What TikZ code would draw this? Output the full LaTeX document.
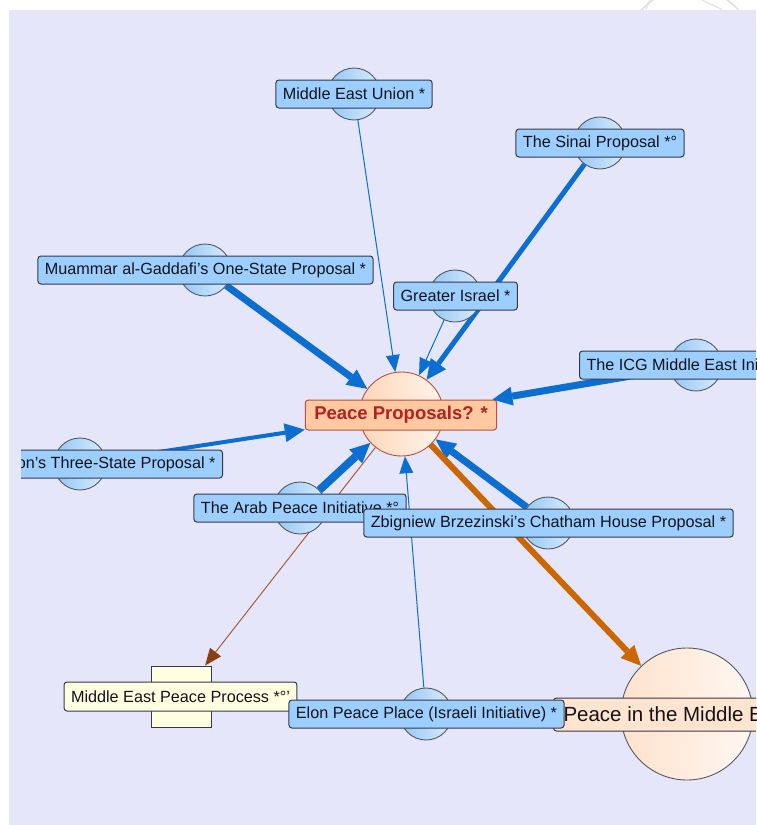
\documentclass[tikz,border=0pt]{standalone}
\usepackage{fontspec}
\setmainfont{Liberation Sans}
\usetikzlibrary{arrows.meta}

\pgfdeclarelayer{backdrop}
\pgfdeclarelayer{links}
\pgfsetlayers{backdrop,links,main}

\definecolor{canvas}{RGB}{230,230,250}
\definecolor{tagblue}{RGB}{156,206,255}
\definecolor{bubblelo}{RGB}{148,198,244}
\definecolor{bubblehi}{RGB}{216,237,255}
\definecolor{outline}{RGB}{55,58,70}
\definecolor{linkblue}{RGB}{12,110,208}
\definecolor{linkorange}{RGB}{204,102,0}
\definecolor{linkbrown}{RGB}{165,95,55}
\definecolor{tipbrown}{RGB}{140,62,18}
\definecolor{hubfill}{RGB}{255,202,162}
\definecolor{hubedge}{RGB}{182,82,62}
\definecolor{hubtext}{RGB}{178,34,34}
\definecolor{peachlo}{RGB}{255,214,184}
\definecolor{peachhi}{RGB}{255,244,236}
\definecolor{goallo}{RGB}{255,226,204}
\definecolor{goalhi}{RGB}{255,247,242}
\definecolor{peachbox}{RGB}{255,228,208}
\definecolor{cream}{RGB}{255,255,226}
\definecolor{ink}{RGB}{20,20,24}

\begin{document}
\begin{tikzpicture}[x=1pt,y=-1pt,
  bubble/.style={circle, draw=outline!85, line width=0.9pt, minimum size=52pt,
    inner sep=0pt, left color=bubblelo, right color=bubblehi},
  tag/.style={rectangle, rounded corners=3pt, draw=outline, line width=1pt,
    fill=tagblue, minimum height=28pt, inner xsep=7pt, inner ysep=0pt,
    text=ink, font=\fontsize{16.2}{19}\selectfont},
  hubdisc/.style={circle, draw=hubedge, line width=0.9pt, minimum size=84pt,
    inner sep=0pt, left color=peachlo, right color=peachhi},
  hublabel/.style={rectangle, rounded corners=3pt, draw=hubedge, line width=1pt,
    fill=hubfill, minimum height=30pt, inner xsep=9pt, inner ysep=0pt,
    text=hubtext, font=\fontsize{18.5}{22}\selectfont\bfseries},
  goaldisc/.style={circle, draw=outline!85, line width=0.9pt, minimum size=132pt,
    inner sep=0pt, left color=goallo, right color=goalhi},
  goallabel/.style={rectangle, rounded corners=3pt, draw=outline, line width=1pt,
    fill=peachbox, minimum height=33pt, inner xsep=10pt, inner ysep=0pt,
    text=ink, font=\fontsize{20.5}{24}\selectfont},
  issuebox/.style={rectangle, draw=outline, line width=1pt, fill=cream,
    minimum width=60pt, minimum height=61pt, inner sep=0pt},
  issuelabel/.style={rectangle, rounded corners=3pt, draw=outline, line width=1pt,
    fill=cream, minimum height=29pt, inner xsep=7pt, inner ysep=0pt,
    text=ink, font=\fontsize{16.2}{19}\selectfont},
  wire/.style={draw=linkblue, line width=1pt,
    -{Triangle[length=17pt,width=14pt,line width=0pt]}},
  cable/.style={draw=linkblue, line width=#1,
    -{Triangle[length=20pt,width=19pt,line width=0pt]}},
  brownlink/.style={draw=linkbrown, line width=1pt,
    -{Triangle[length=17pt,width=14pt,line width=0pt,color=tipbrown]}},
  orangelink/.style={draw=linkorange, line width=6pt,
    -{Triangle[length=20pt,width=19pt,line width=0pt]}}
]

% canvas and the faint mark in the top margin
\begin{pgfonlayer}{backdrop}
  \fill[white] (0,0) rectangle (756,825);
  \fill[canvas] (8.5,9.5) rectangle (756,825);
  \begin{scope}
    \clip (590,0) rectangle (756,9.5);
    \draw[black!13, line width=1.4pt] (690,52) circle (64);
    \draw[black!11, line width=1.2pt] (650,0) -- (646,9.5) (702,0) -- (722,9.5);
  \end{scope}
\end{pgfonlayer}
\useasboundingbox (0,0) rectangle (756,825);

% map nodes: each position is a disc with its label on top
\begin{scope}
  \clip (21,9.5) rectangle (756,825);

  \node[bubble] (meu) at (354,94) {};
  \node[tag] (meu-l) at (meu) {Middle East Union *};

  \node[bubble] (sinai) at (600,143) {};
  \node[tag] (sinai-l) at (sinai) {The Sinai Proposal *°};

  \node[bubble] (gad) at (205,270) {};
  \node[tag] (gad-l) at (205.5,270) {Muammar al-Gaddafi's One-State Proposal *};

  \node[bubble] (gi) at (455,296) {};
  \node[tag] (gi-l) at (455.5,296) {Greater Israel *};

  \node[bubble] (icg) at (696,365) {};
  \node[tag, anchor=west] (icg-l) at (579,365) {The ICG Middle East Initiative *};

  \node[bubble] (tsp) at (80,464) {};
  \node[tag, anchor=east] (tsp-l) at (223,464) {John Bolton's Three-State Proposal *};

  \node[bubble] (api) at (300,508) {};
  \node[tag] (api-l) at (300,508) {The Arab Peace Initiative *°};

  \node[bubble] (zb) at (548,523) {};
  \node[tag] (zb-l) at (548.5,523) {Zbigniew Brzezinski's Chatham House Proposal *};

  \node[issuebox] (mepp) at (181,696.5) {};
  \node[issuelabel] (mepp-l) at (180.5,696.5) {Middle East Peace Process *°’};

  \node[goaldisc] (pme) at (687,714) {};
  \node[goallabel, anchor=west] (pme-l) at (553,714.5) {Peace in the Middle East};

  \node[bubble] (elon) at (426,714) {};
  \node[tag] (elon-l) at (426.5,714) {Elon Peace Place (Israeli Initiative) *};

  \node[hubdisc] (pp) at (401.5,414) {};
  \node[hublabel] (pp-l) at (401,415) {Peace Proposals? *};
\end{scope}

% connectors, beneath the nodes
\begin{pgfonlayer}{links}
  \draw[wire] (meu) -- (pp);
  \draw[cable=5pt] (sinai) -- (pp);
  \draw[cable=7pt] (gad) -- (pp);
  \draw[wire] (gi) -- (pp);
  \draw[cable=7pt] (icg) -- (pp-l);
  \draw[cable=4pt] (tsp) -- (pp-l);
  \draw[cable=8pt] (api) -- (pp);
  \draw[cable=7pt] (zb) -- (pp);
  \draw[wire] (elon) -- (pp);
  \draw[brownlink] (pp) -- (mepp);
  \draw[orangelink] (pp) -- (pme);
\end{pgfonlayer}
\end{tikzpicture}
\end{document}
